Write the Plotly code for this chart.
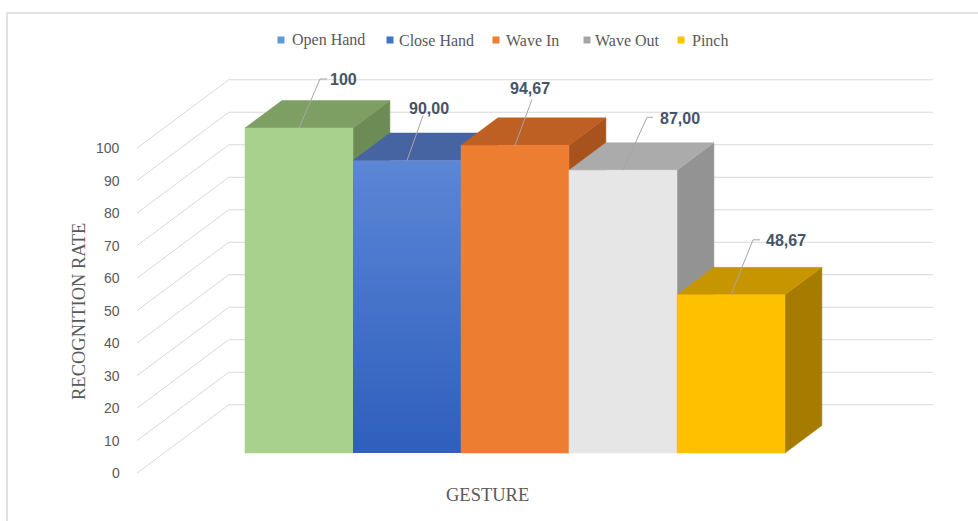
import plotly.graph_objects as go

# ---------------- data ----------------
gestures = ["Open Hand", "Close Hand", "Wave In", "Wave Out", "Pinch"]
rates = [100, 90.00, 94.67, 87.00, 48.67]
rate_labels = ["100", "90,00", "94,67", "87,00", "48,67"]
y_ticks = [0, 10, 20, 30, 40, 50, 60, 70, 80, 90, 100]

# ---------------- style ----------------
legend_colors = ["#5B9BD5", "#4472C4", "#ED7D31", "#A5A5A5", "#FFC000"]
front_colors = ["#A9D18E", None, "#ED7D31", "#E7E6E6", "#FFC000"]
blue_gradient = [[0, "#2E5FBD"], [1, "#5C86D6"]]
top_colors = ["#7E9F63", "#4764A2", "#BE5F23", "#ABABAB", "#C79500"]
side_colors = ["#6C8B55", "#3A5590", "#A8531D", "#939393", "#A67C00"]

W, H = 978, 521
PX_X0, PX_PER_CAT = 299, 108      # pixel of category 0 centre, pixels per category
PX_V0, PX_PER_UNIT = 453, 3.25    # pixel of value 0 at bar front, pixels per unit
DEPTH_X = 0.8333                  # oblique shift (categories) per unit depth
DEPTH_V = 20.615                  # oblique shift (value units) per unit depth
BAR_DEPTH = 0.41
WALL_FRONT, WALL_BACK = -0.30, 0.72
WALL_LEFT, WALL_RIGHT = -1.25, 5.27

# callout styling, in pixels relative to the bar's front-top centre
callout_end_px = [(21, -49), (16, -45), (17, -46), (24, -53), (22, -55)]
callout_tick_px = [7, 0, 0, 6, 7]
label_offset_px = [(44, -49), (22, -52), (15, -57), (57, -52), (55, -54)]

# legend layout (pixels): square centre x, text left x
legend_marker_px = [281, 390, 496, 587, 681]
legend_text_px = [290, 397, 504, 593, 690]
LEGEND_Y_PX = 40
LEGEND_SQ = 7

GRID = "#D9D9D9"
TEXT = "#595959"
LABEL = "#44546A"


def P(x, v, d):
    return x + d * DEPTH_X, v + d * DEPTH_V


def poly(points):
    xs, ys = [], []
    for p in points:
        X, Y = P(*p)
        xs.append(X)
        ys.append(Y)
    xs.append(xs[0])
    ys.append(ys[0])
    return xs, ys


fig = go.Figure()

# walls / gridlines
gx, gy = [], []
for t in y_ticks:
    for p in [(WALL_LEFT, t, WALL_FRONT), (WALL_LEFT, t, WALL_BACK), (WALL_RIGHT, t, WALL_BACK)]:
        X, Y = P(*p)
        gx.append(X)
        gy.append(Y)
    gx.append(None)
    gy.append(None)
fig.add_trace(go.Scatter(x=gx, y=gy, mode="lines", line=dict(color=GRID, width=1),
                         hoverinfo="skip", showlegend=False))

# bars (drawn left to right: side, top, front)
for i, v in enumerate(rates):
    x0, x1 = i - 0.5, i + 0.5
    B = BAR_DEPTH
    sx, sy = poly([(x1, 0, 0), (x1, 0, B), (x1, v, B), (x1, v, 0)])
    fig.add_trace(go.Scatter(x=sx, y=sy, mode="lines", fill="toself",
                             fillcolor=side_colors[i], line=dict(color=side_colors[i], width=0.5),
                             hoverinfo="skip", showlegend=False))
    tx, ty = poly([(x0, v, 0), (x1, v, 0), (x1, v, B), (x0, v, B)])
    fig.add_trace(go.Scatter(x=tx, y=ty, mode="lines", fill="toself",
                             fillcolor=top_colors[i], line=dict(color=top_colors[i], width=0.5),
                             hoverinfo="skip", showlegend=False))
    fx, fy = poly([(x0, 0, 0), (x1, 0, 0), (x1, v, 0), (x0, v, 0)])
    if front_colors[i] is None:
        fig.add_trace(go.Scatter(x=fx, y=fy, mode="lines", fill="toself",
                                 fillgradient=dict(type="vertical", colorscale=blue_gradient),
                                 line=dict(width=0, color="rgba(0,0,0,0)"),
                                 name=gestures[i], hoverinfo="skip", showlegend=False))
    else:
        fig.add_trace(go.Scatter(x=fx, y=fy, mode="lines", fill="toself",
                                 fillcolor=front_colors[i], line=dict(color=front_colors[i], width=0.5),
                                 name=gestures[i], hoverinfo="skip", showlegend=False))

# callout leader lines and labels
lx, ly = [], []
annotations = []
for i, v in enumerate(rates):
    ex, ey = callout_end_px[i]
    lx += [i, i + ex / PX_PER_CAT]
    ly += [v, v - ey / PX_PER_UNIT]
    if callout_tick_px[i]:
        lx.append(i + (ex + callout_tick_px[i]) / PX_PER_CAT)
        ly.append(v - ey / PX_PER_UNIT)
    lx.append(None)
    ly.append(None)
    ox, oy = label_offset_px[i]
    annotations.append(dict(x=i + ox / PX_PER_CAT, y=v - oy / PX_PER_UNIT, text="<b>%s</b>" % rate_labels[i],
                            showarrow=False, xanchor="center", yanchor="middle",
                            font=dict(family="Liberation Sans", size=16, color=LABEL)))
fig.add_trace(go.Scatter(x=lx, y=ly, mode="lines", line=dict(color="#A6A6A6", width=1),
                         hoverinfo="skip", showlegend=False))

# value-axis tick labels at the front edge of the side wall
for t in y_ticks:
    X, Y = P(WALL_LEFT, t, WALL_FRONT)
    annotations.append(dict(x=X, y=Y, text=str(t), showarrow=False, xanchor="right", yanchor="middle",
                            xshift=-15, font=dict(family="Liberation Sans", size=14, color=TEXT)))

# axis titles
annotations.append(dict(xref="paper", yref="paper", x=79 / W, y=1 - 312 / H, text="RECOGNITION RATE",
                        textangle=-90, showarrow=False, xanchor="center", yanchor="middle",
                        font=dict(family="Liberation Serif", size=18.5, color=TEXT)))
annotations.append(dict(xref="paper", yref="paper", x=487 / W, y=1 - 495 / H, text="GESTURE",
                        showarrow=False, xanchor="center", yanchor="middle",
                        font=dict(family="Liberation Serif", size=18.5, color=TEXT)))

# legend (Excel-style compact row)
shapes = []
for g, c, mx, tx in zip(gestures, legend_colors, legend_marker_px, legend_text_px):
    shapes.append(dict(type="rect", xref="paper", yref="paper",
                       x0=(mx - LEGEND_SQ / 2) / W, x1=(mx + LEGEND_SQ / 2) / W,
                       y0=1 - (LEGEND_Y_PX + LEGEND_SQ / 2) / H, y1=1 - (LEGEND_Y_PX - LEGEND_SQ / 2) / H,
                       line=dict(width=0), fillcolor=c))
    annotations.append(dict(xref="paper", yref="paper", x=tx / W, y=1 - LEGEND_Y_PX / H, text=g,
                            showarrow=False, xanchor="left", yanchor="middle",
                            font=dict(family="Liberation Serif", size=16, color=TEXT)))

shapes.append(dict(type="rect", xref="paper", yref="paper", x0=7 / W, x1=1.02, y0=-0.02, y1=1 - 13 / H,
                   line=dict(color="#D9D9D9", width=1.5), fillcolor="rgba(0,0,0,0)", layer="below"))

fig.update_layout(
    width=W, height=H,
    margin=dict(l=0, r=0, t=0, b=0),
    paper_bgcolor="white", plot_bgcolor="white",
    xaxis=dict(range=[(0 - PX_X0) / PX_PER_CAT, (W - PX_X0) / PX_PER_CAT], visible=False, fixedrange=True),
    yaxis=dict(range=[(PX_V0 - H) / PX_PER_UNIT, PX_V0 / PX_PER_UNIT], visible=False, fixedrange=True),
    annotations=annotations,
    shapes=shapes,
    showlegend=False,
)

fig.write_html("out.html")
